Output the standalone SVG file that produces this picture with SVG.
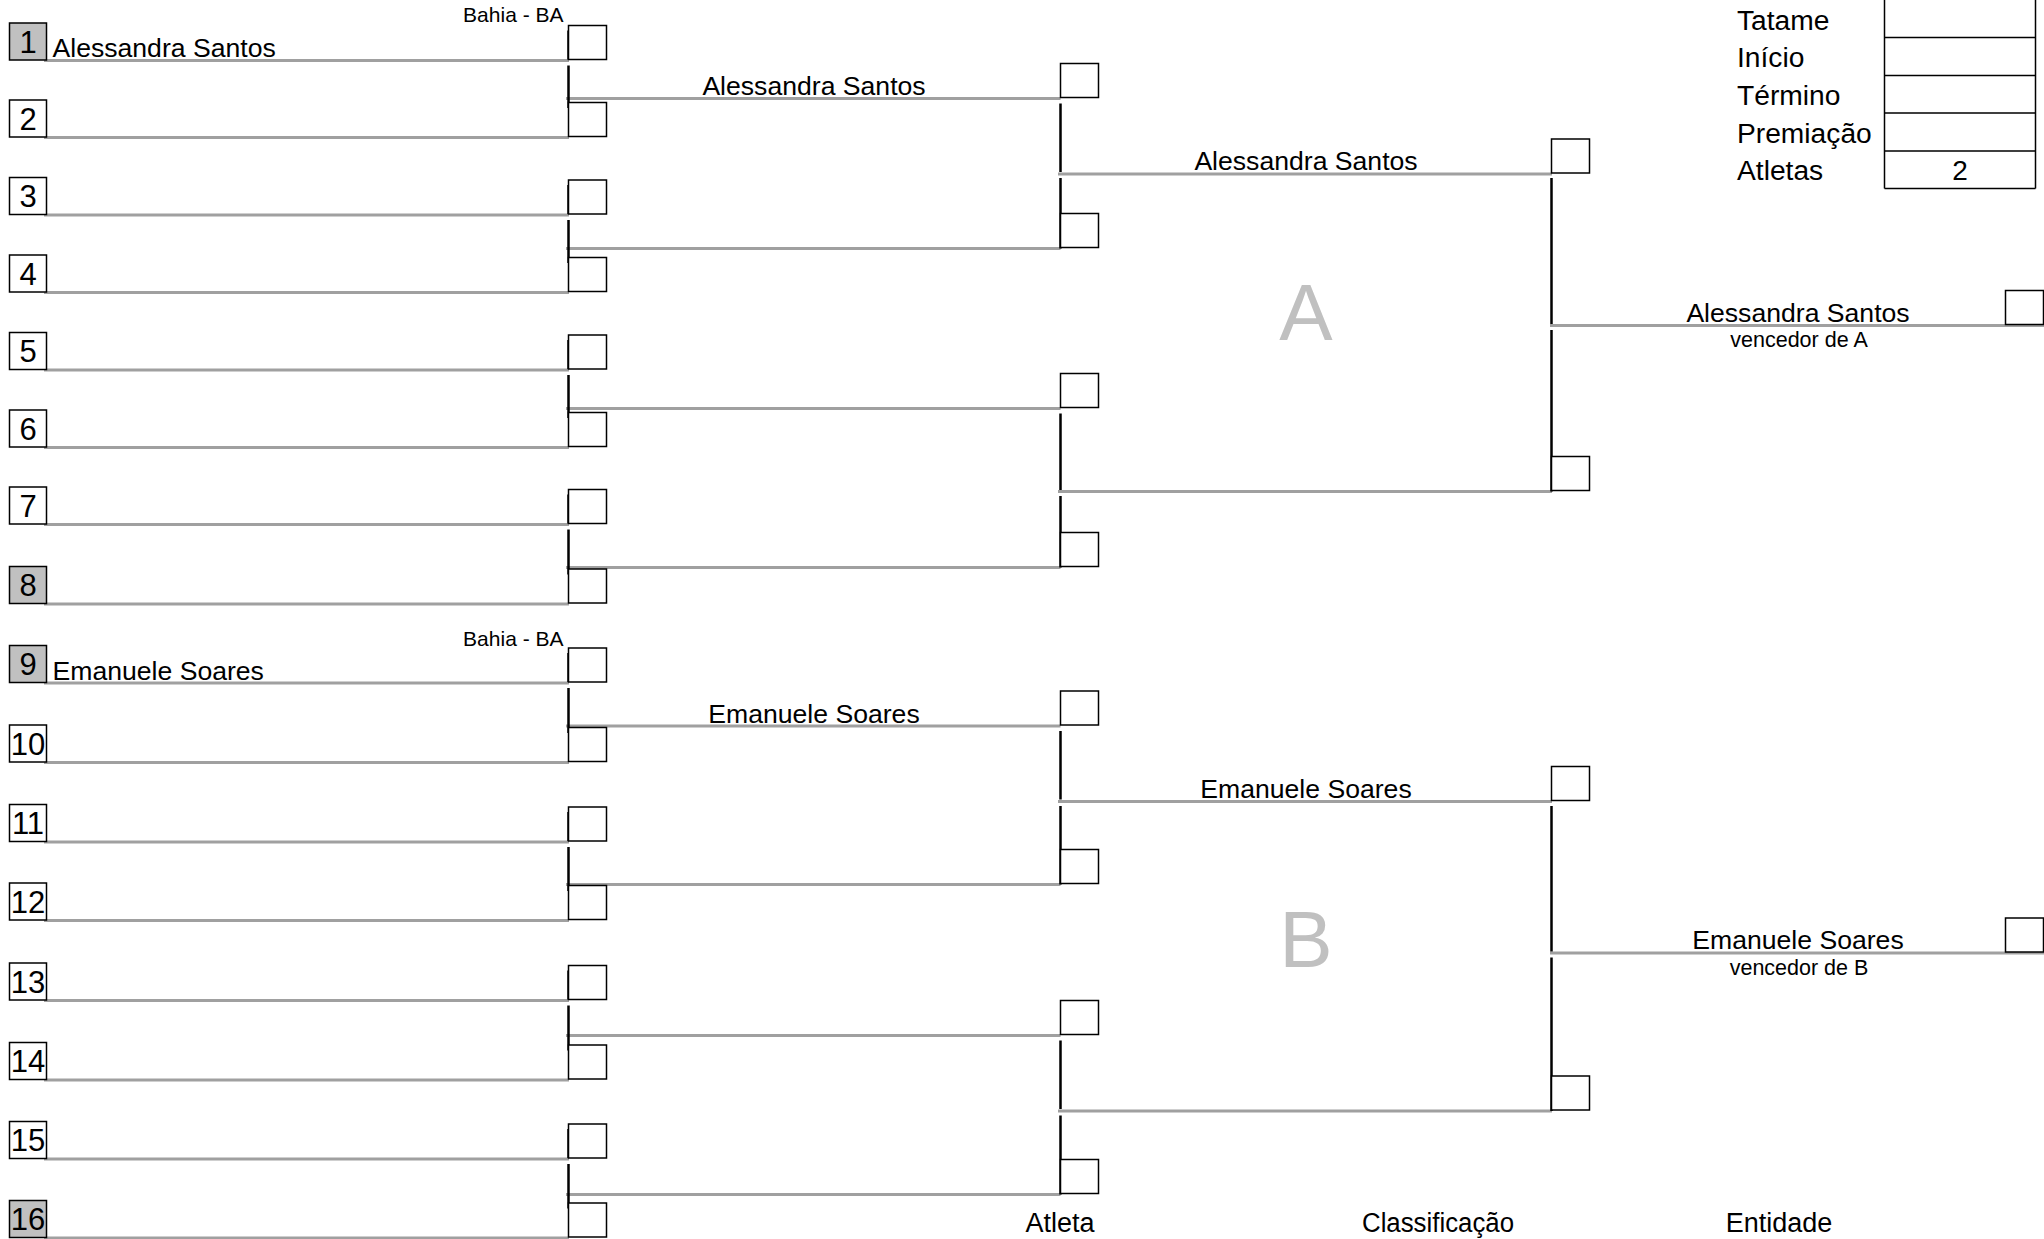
<svg xmlns="http://www.w3.org/2000/svg" width="2044" height="1239" viewBox="0 0 2044 1239">
<style>
text{font-family:"Liberation Sans",Arial,sans-serif;fill:#000}
.num{fill:#fff;stroke:#000;stroke-width:1.5}
.seed{fill:#c0c0c0}
.sb{fill:#fff;stroke:#000;stroke-width:1.5}
.nt{font-size:31px;text-anchor:middle}
.nm{font-size:26.6px}
.nc{font-size:26.6px;text-anchor:middle}
.uf{font-size:21px;text-anchor:end}
.vw{font-size:21.5px;text-anchor:middle}
.grp{font-size:80px;fill:#c0c0c0;text-anchor:middle}
.lbl{font-size:28.2px}
.hd{font-size:28px;text-anchor:middle}
.ft{font-size:27px;text-anchor:middle}
.gl{stroke:#a0a0a0;stroke-width:3;fill:none}
.bl{stroke:#000;stroke-width:2.5;fill:none}
.tb{stroke:#000;stroke-width:1.5;fill:none}
</style>
<rect width="2044" height="1239" fill="#fff"/>
<g id="connectors">
<path class="gl" d="M44 60.5H569M44 137.5H569M44 215H569M44 292.5H569M44 370H569M44 447.5H569M44 524.5H569M44 604H569M44 683H569M44 762.5H569M44 842H569M44 920.5H569M44 1000.5H569M44 1080H569M44 1159H569M44 1238H569"/>
<path class="gl" d="M566 98.5H1060.5M566 248.5H1060.5M566 408.5H1060.5M566 567.5H1060.5M566 726H1060.5M566 884.5H1060.5M566 1035.5H1060.5M566 1194.5H1060.5"/>
<path class="gl" d="M1058 174H1552M1058 491.5H1552M1058 801.5H1552M1058 1111H1552"/>
<path class="gl" stroke-width="2.5" d="M1550 325.5H2044M1550 953H2044"/>
<path class="bl" d="M568.5 30.5V59.5M568.5 65.5V108M568.5 185V214M568.5 220V263M568.5 340V369M568.5 375V418M568.5 494.5V523.5M568.5 529.5V574.5M568.5 653V682M568.5 688V733M568.5 812V841M568.5 847V891M568.5 970.5V999.5M568.5 1005.5V1050.5M568.5 1129V1158M568.5 1164V1208.5"/>
<path class="bl" d="M1060.5 103.5V172M1060.5 178V248.5M1060.5 413.5V490M1060.5 496V567.5M1060.5 731V799.5M1060.5 806V884.5M1060.5 1040.5V1109M1060.5 1115.5V1194.5"/>
<path class="bl" d="M1551.5 178V324M1551.5 330V491.5M1551.5 806V951.5M1551.5 957.5V1111"/>
</g>
<g id="slot-1"><rect class="num seed" x="9.5" y="23" width="37" height="37"/><text class="nt" x="28" y="52.5">1</text><text class="nm" x="52.5" y="57">Alessandra Santos</text><text class="uf" x="563.5" y="21.5">Bahia - BA</text><rect class="sb" x="568.5" y="25.5" width="38" height="34"/></g>
<g id="slot-2"><rect class="num" x="9.5" y="100" width="37" height="37"/><text class="nt" x="28" y="129.5">2</text><rect class="sb" x="568.5" y="102.5" width="38" height="34"/></g>
<g id="slot-3"><rect class="num" x="9.5" y="177.5" width="37" height="37"/><text class="nt" x="28" y="207">3</text><rect class="sb" x="568.5" y="180" width="38" height="34"/></g>
<g id="slot-4"><rect class="num" x="9.5" y="255" width="37" height="37"/><text class="nt" x="28" y="284.5">4</text><rect class="sb" x="568.5" y="257.5" width="38" height="34"/></g>
<g id="slot-5"><rect class="num" x="9.5" y="332.5" width="37" height="37"/><text class="nt" x="28" y="362">5</text><rect class="sb" x="568.5" y="335" width="38" height="34"/></g>
<g id="slot-6"><rect class="num" x="9.5" y="410" width="37" height="37"/><text class="nt" x="28" y="439.5">6</text><rect class="sb" x="568.5" y="412.5" width="38" height="34"/></g>
<g id="slot-7"><rect class="num" x="9.5" y="487" width="37" height="37"/><text class="nt" x="28" y="516.5">7</text><rect class="sb" x="568.5" y="489.5" width="38" height="34"/></g>
<g id="slot-8"><rect class="num seed" x="9.5" y="566.5" width="37" height="37"/><text class="nt" x="28" y="596">8</text><rect class="sb" x="568.5" y="569" width="38" height="34"/></g>
<g id="slot-9"><rect class="num seed" x="9.5" y="645.5" width="37" height="37"/><text class="nt" x="28" y="675">9</text><text class="nm" x="52.5" y="679.5">Emanuele Soares</text><text class="uf" x="563.5" y="646">Bahia - BA</text><rect class="sb" x="568.5" y="648" width="38" height="34"/></g>
<g id="slot-10"><rect class="num" x="9.5" y="725" width="37" height="37"/><text class="nt" x="28" y="754.5">10</text><rect class="sb" x="568.5" y="727.5" width="38" height="34"/></g>
<g id="slot-11"><rect class="num" x="9.5" y="804.5" width="37" height="37"/><text class="nt" x="28" y="834">11</text><rect class="sb" x="568.5" y="807" width="38" height="34"/></g>
<g id="slot-12"><rect class="num" x="9.5" y="883" width="37" height="37"/><text class="nt" x="28" y="912.5">12</text><rect class="sb" x="568.5" y="885.5" width="38" height="34"/></g>
<g id="slot-13"><rect class="num" x="9.5" y="963" width="37" height="37"/><text class="nt" x="28" y="992.5">13</text><rect class="sb" x="568.5" y="965.5" width="38" height="34"/></g>
<g id="slot-14"><rect class="num" x="9.5" y="1042.5" width="37" height="37"/><text class="nt" x="28" y="1072">14</text><rect class="sb" x="568.5" y="1045" width="38" height="34"/></g>
<g id="slot-15"><rect class="num" x="9.5" y="1121.5" width="37" height="37"/><text class="nt" x="28" y="1151">15</text><rect class="sb" x="568.5" y="1124" width="38" height="34"/></g>
<g id="slot-16"><rect class="num seed" x="9.5" y="1200.5" width="37" height="37"/><text class="nt" x="28" y="1230">16</text><rect class="sb" x="568.5" y="1203" width="38" height="34"/></g>
<g id="r2-1"><text class="nc" x="814" y="95">Alessandra Santos</text><rect class="sb" x="1060.5" y="63.5" width="38" height="34"/></g>
<g id="r2-2"><rect class="sb" x="1060.5" y="213.5" width="38" height="34"/></g>
<g id="r2-3"><rect class="sb" x="1060.5" y="373.5" width="38" height="34"/></g>
<g id="r2-4"><rect class="sb" x="1060.5" y="532.5" width="38" height="34"/></g>
<g id="r2-5"><text class="nc" x="814" y="722.5">Emanuele Soares</text><rect class="sb" x="1060.5" y="691" width="38" height="34"/></g>
<g id="r2-6"><rect class="sb" x="1060.5" y="849.5" width="38" height="34"/></g>
<g id="r2-7"><rect class="sb" x="1060.5" y="1000.5" width="38" height="34"/></g>
<g id="r2-8"><rect class="sb" x="1060.5" y="1159.5" width="38" height="34"/></g>
<g id="r3-1"><text class="nc" x="1306" y="170">Alessandra Santos</text><rect class="sb" x="1551.5" y="139" width="38" height="34"/></g>
<g id="r3-2"><rect class="sb" x="1551.5" y="456.5" width="38" height="34"/></g>
<g id="r3-3"><text class="nc" x="1306" y="797.5">Emanuele Soares</text><rect class="sb" x="1551.5" y="766.5" width="38" height="34"/></g>
<g id="r3-4"><rect class="sb" x="1551.5" y="1076" width="38" height="34"/></g>
<g id="group-a"><text class="grp" x="1306" y="339.5">A</text></g>
<g id="group-b"><text class="grp" x="1306" y="967">B</text></g>
<g id="winner-a"><text class="nc" x="1798" y="321.5">Alessandra Santos</text><text class="vw" x="1799" y="347">vencedor de A</text><rect class="sb" x="2005.5" y="290.5" width="38" height="34"/></g>
<g id="winner-b"><text class="nc" x="1798" y="949">Emanuele Soares</text><text class="vw" x="1799" y="974.5">vencedor de B</text><rect class="sb" x="2005.5" y="918" width="38" height="34"/></g>
<g id="info-table">
<text class="lbl" x="1737" y="29.5">Tatame</text>
<text class="lbl" x="1737" y="67">Início</text>
<text class="lbl" x="1737" y="104.5">Término</text>
<text class="lbl" x="1737" y="142.5">Premiação</text>
<text class="lbl" x="1737" y="180">Atletas</text>
<path class="tb" d="M1884.5 0V188.5M2035.5 0V188.5M1884.5 37.5H2035.5M1884.5 75.5H2035.5M1884.5 113H2035.5M1884.5 151H2035.5M1884.5 188.5H2035.5"/>
<text class="hd" x="1960" y="180">2</text>
</g>
<g id="footer">
<text class="ft" x="1060" y="1232">Atleta</text>
<text class="ft" x="1438" y="1232" textLength="152" lengthAdjust="spacingAndGlyphs">Classificação</text>
<text class="ft" x="1779" y="1232">Entidade</text>
</g>
</svg>
